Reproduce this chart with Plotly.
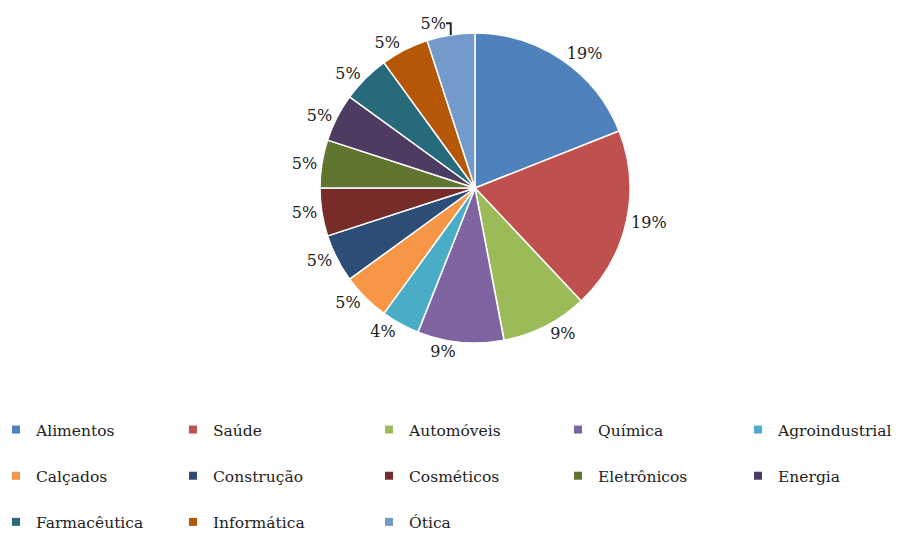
import plotly.graph_objects as go

categories = ["Alimentos", "Saúde", "Automóveis", "Química", "Agroindustrial",
              "Calçados", "Construção", "Cosméticos", "Eletrônicos", "Energia",
              "Farmacêutica", "Informática", "Ótica"]
values = [19, 19, 9, 9, 4, 5, 5, 5, 5, 5, 5, 5, 5]
colors = ["#4F81BD", "#C0504D", "#9BBB59", "#8064A2", "#4BACC6", "#F79646",
          "#2C4D75", "#772C2A", "#5F7530", "#4D3B62", "#276A7C", "#B65708", "#729ACA"]

W, H = 903, 534
FONT = "DejaVu Serif"
TXT = "#222222"
OFF = 8  # page body margin offset

fig = go.Figure()
cx, cy, r = 475 - OFF, 188 - OFF, 155
fig.add_trace(go.Pie(
    labels=categories, values=values, sort=False, direction="clockwise", rotation=0,
    marker=dict(colors=colors, line=dict(color="white", width=1.5)),
    texttemplate="%{percent:.0%}", textposition="outside",
    textfont=dict(family=FONT, size=16, color=TXT),
    showlegend=False, hoverinfo="label+percent",
    domain=dict(x=[(cx - r) / W, (cx + r) / W], y=[1 - (cy + r) / H, 1 - (cy - r) / H]),
))

col_x = [15, 192, 388, 577, 757]   # marker centres on the page
row_y0 = 430
for i, (cat, col) in enumerate(zip(categories, colors)):
    c = i % 5
    lg = "legend" if c == 0 else f"legend{c + 1}"
    fig.add_trace(go.Scatter(
        x=[None], y=[None], mode="markers", name=cat,
        marker=dict(symbol="square", size=8, color=col),
        legend=lg, legendgroup=f"g{i}", showlegend=True,
    ))

layout_legends = {}
for c in range(5):
    key = "legend" if c == 0 else f"legend{c + 1}"
    layout_legends[key] = dict(
        orientation="v", xanchor="left", yanchor="top", bgcolor="rgba(0,0,0,0)",
        font=dict(family=FONT, size=15.5, color=TXT), tracegroupgap=23,
        borderwidth=0, x=(col_x[c] - OFF - 19) / W, y=1 - (row_y0 - 16 - OFF - 1) / H)

fig.update_layout(
    width=W, height=H, margin=dict(l=0, r=0, t=0, b=0, autoexpand=False),
    paper_bgcolor="white", plot_bgcolor="white",
    xaxis=dict(visible=False), yaxis=dict(visible=False),
    **layout_legends,
)
fig.write_html("out.html")
